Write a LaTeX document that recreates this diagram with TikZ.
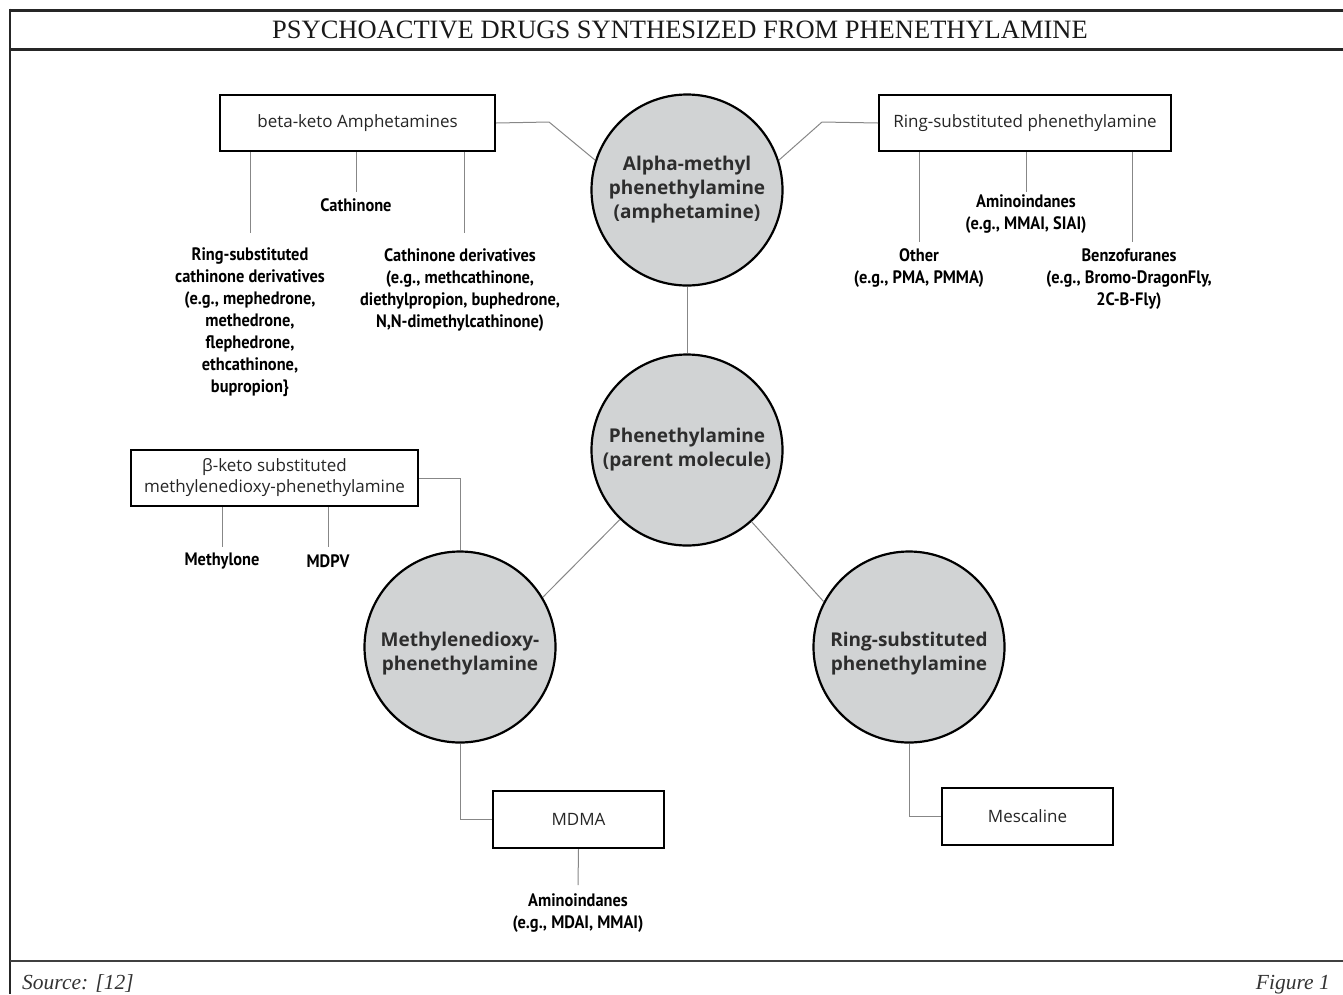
\documentclass[tikz,border=0pt]{standalone}
\usepackage{fontspec}
\setmainfont{Liberation Serif}
\newfontfamily\sansf{Open Sans}
\newfontfamily\lblf[FakeStretch=0.91]{PT Sans}
\definecolor{circfill}{RGB}{209,211,212}
\definecolor{linegray}{RGB}{135,135,135}
\definecolor{txtdark}{RGB}{45,45,45}
\begin{document}
\begin{tikzpicture}[x=1pt,y=-1pt,
  circ/.style={circle,draw=black,line width=2.2pt,fill=circfill,minimum size=191pt,inner sep=0pt,align=center,
    font=\sansf\bfseries\fontsize{19}{24}\selectfont,text=txtdark},
  box/.style={rectangle,draw=black,line width=2pt,fill=white,inner sep=0pt,align=center,
    font=\sansf\fontsize{17}{21}\selectfont,text=black!85},
  lbl/.style={inner sep=0pt,align=center,font=\lblf\bfseries\fontsize{18}{22}\selectfont,text=black},
  conn/.style={draw=linegray,line width=1pt},
  frameline/.style={draw=black!85,line width=2.5pt}]
\useasboundingbox (0,0) rectangle (1343,994);
% frame
\draw[frameline,line width=3pt] (10,10) -- (1343,10);
\draw[frameline,line width=3pt] (10,49) -- (1343,49);
\draw[frameline] (10,8.5) -- (10,994);
\draw[draw=black!75,line width=2pt] (10,961) -- (1343,961);
\node[font=\fontsize{26.5}{30}\selectfont,text=black!90] (title) at (680,30) {PSYCHOACTIVE DRUGS SYNTHESIZED FROM PHENETHYLAMINE};
\node[font=\itshape\fontsize{21.5}{24}\selectfont,anchor=base west,inner sep=0pt,text=black!80] (src) at (22,989) {Source: [12]};
\node[font=\itshape\fontsize{21.5}{24}\selectfont,anchor=base east,inner sep=0pt,text=black!80] (fig) at (1330,989) {Figure 1};

% circles
\node[circ] (alpha) at (687,190) {Alpha-methyl\\phenethylamine\\(amphetamine)};
\node[circ] (phen) at (687,450) {Phenethylamine\\(parent molecule)};
\node[circ] (mdx) at (460,647) {\rule{0pt}{28pt}Methylenedioxy-\\phenethylamine};
\node[circ] (ring) at (909,647) {\rule{0pt}{28pt}Ring-substituted\\phenethylamine};

% boxes
\node[box,minimum width=275pt,minimum height=56pt] (bk) at (357.5,123) {beta-keto Amphetamines};
\node[box,minimum width=292pt,minimum height=56pt] (rsp) at (1025,123) {Ring-substituted phenethylamine};
\node[box,minimum width=287pt,minimum height=56pt] (bks) at (274.5,478) {β-keto substituted\\methylenedioxy-phenethylamine};
\node[box,minimum width=171pt,minimum height=57pt] (mdma) at (578.5,819.5) {MDMA};
\node[box,minimum width=171pt,minimum height=57pt] (mesc) at (1027.5,816.5) {Mescaline};

% labels
\node[lbl] (cath) at (356,205) {Cathinone};
\node[lbl] (rscd) at (250,322.5) {Ring-substituted\\cathinone derivatives\\(e.g., mephedrone,\\methedrone,\\flephedrone,\\ethcathinone,\\bupropion\}};
\node[lbl] (cathd) at (460,290) {Cathinone derivatives\\(e.g., methcathinone,\\diethylpropion, buphedrone,\\N,N-dimethylcathinone)};
\node[lbl] (amino1) at (1026,214) {Aminoindanes\\(e.g., MMAI, SIAI)};
\node[lbl] (other) at (919,268) {Other\\(e.g., PMA, PMMA)};
\node[lbl] (benzo) at (1129,279.5) {Benzofuranes\\(e.g., Bromo-DragonFly,\\2C-B-Fly)};
\node[lbl] (methylone) at (222,561) {Methylone};
\node[lbl] (mdpv) at (328,561) {MDPV};
\node[lbl] (amino2) at (578,913) {Aminoindanes\\(e.g., MDAI, MMAI)};

% branch end coordinates
\coordinate (bkL) at (250,233);
\coordinate (bkM) at (356,192);
\coordinate (bkR) at (464,233);
\coordinate (rsL) at (919,242);
\coordinate (rsM) at (1026,192);
\coordinate (rsR) at (1132,242);
\coordinate (bsL) at (222,547);
\coordinate (bsR) at (328,547);
\coordinate (mdB) at (578,885);
\coordinate (bkE) at (549,122);
\coordinate (rsW) at (822,122);

% connectors
\draw[conn] (bk.east) -- (bkE) -- (alpha.162);
\draw[conn] (alpha.18) -- (rsW) -- (rsp.west);
\draw[conn] (bk.south -| bkL) -- (bkL);
\draw[conn] (bk.south -| bkM) -- (bkM);
\draw[conn] (bk.south -| bkR) -- (bkR);
\draw[conn] (rsp.south -| rsL) -- (rsL);
\draw[conn] (rsp.south -| rsM) -- (rsM);
\draw[conn] (rsp.south -| rsR) -- (rsR);
\draw[conn] (alpha.south) -- (phen.north);
\draw[conn] (phen.-134) -- (mdx.31);
\draw[conn] (phen.-48) -- (ring.152);
\draw[conn] (bks.east) -| (mdx.north);
\draw[conn] (bks.south -| bsL) -- (bsL);
\draw[conn] (bks.south -| bsR) -- (bsR);
\draw[conn] (mdx.south) |- (mdma.west);
\draw[conn] (ring.south) |- (mesc.west);
\draw[conn] (mdma.south) -- (mdB);
\end{tikzpicture}
\end{document}
